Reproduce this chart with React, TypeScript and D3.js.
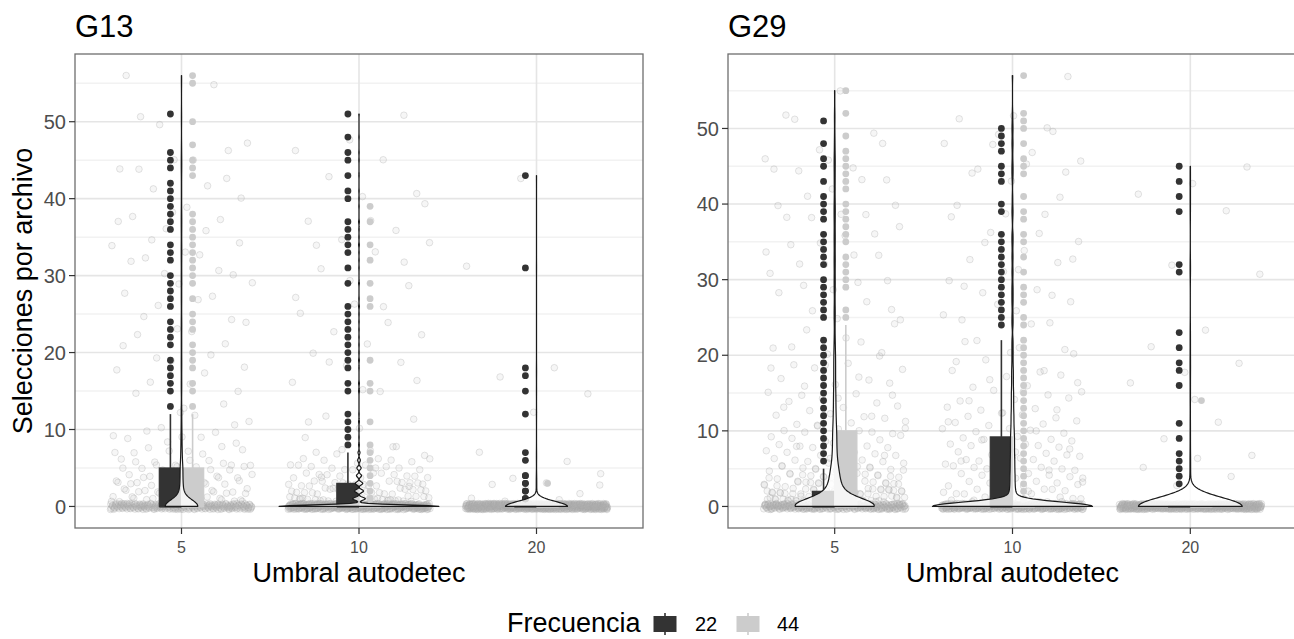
import React, { useMemo } from 'react'
import * as d3 from 'd3'

const panels = ['G13', 'G29']
const thresholds = ['5', '10', '20']
const freqs = ['22', '44']
const freqColors = ['#333333', '#cccccc']
const yTicks = [0, 10, 20, 30, 40, 50]
const yMinor = [5, 15, 25, 35, 45, 55]

// [q1, mediana, q3, bigote superior] por umbral (5, 10, 20)
const g13Box22 = [[0, 0, 5, 12], [0, 0, 3, 7], [0, 0, 0, 0]]
const g13Box44 = [[0, 0, 5, 12], [0, 0, 0, 0], [0, 0, 0, 0]]
const g29Box22 = [[0, 0, 2, 5], [0, 0, 9.2, 22], [0, 0, 0, 0]]
const g29Box44 = [[0, 0, 10, 24], [0, 0, 0, 0], [0, 0, 0, 0]]

// archivos sin selecciones
const g13Zero22 = [118, 200, 280]
const g13Zero44 = [118, 200, 280]
const g29Zero22 = [140, 140, 250]
const g29Zero44 = [140, 250, 250]

// valores dentro de los bigotes: [valor, n]
const g13Low22 = [
  [[1, 10], [2, 8], [3, 6], [4, 5], [5, 6], [6, 3], [7, 3], [8, 2], [9, 2], [10, 2], [11, 1], [12, 1]],
  [[1, 30], [2, 22], [3, 18], [4, 12], [5, 10], [6, 6], [7, 4]],
  []
]
const g13Low44 = [
  [[1, 9], [2, 8], [3, 6], [4, 5], [5, 6], [6, 3], [7, 3], [8, 2], [9, 2], [10, 1], [11, 1], [12, 1]],
  [],
  []
]
const g29Low22 = [
  [[1, 25], [2, 20], [3, 10], [4, 8], [5, 6]],
  [[1, 12], [2, 10], [3, 8], [4, 8], [5, 7], [6, 7], [7, 6], [8, 6], [9, 6], [10, 5], [11, 4], [12, 4],
    [13, 3], [14, 3], [15, 3], [16, 2], [17, 2], [18, 2], [19, 1], [20, 1], [21, 1], [22, 1]],
  []
]
const g29Low44 = [
  [[1, 15], [2, 12], [3, 10], [4, 9], [5, 8], [6, 8], [7, 7], [8, 6], [9, 6], [10, 6], [11, 4], [12, 4],
    [13, 3], [14, 3], [15, 3], [16, 2], [17, 2], [18, 2], [19, 2], [20, 2], [21, 1], [22, 1], [23, 1], [24, 1]],
  [],
  []
]

// atipicos
const g13Out22 = [
  [51, 46, 45, 44, 42, 41, 40, 39, 38, 37, 36, 34, 33, 32, 30, 29, 28, 27, 26, 24, 23, 22, 21, 19, 18, 17, 16, 15, 13],
  [51, 48, 46, 45, 43, 41, 40, 37, 36, 35, 34, 33, 31, 29, 26, 25, 24, 23, 22, 21, 20, 19, 18, 16, 15, 12, 11, 10, 9, 8],
  [43, 31, 18, 17, 15, 12, 7, 6, 4, 4, 3, 3, 2, 2, 1, 1, 1]
]
const g13Out44 = [
  [56, 55, 50, 47, 45, 44, 43, 38, 37, 36, 35, 34, 33, 32, 31, 30, 29, 27, 25, 24, 23, 21, 20, 19, 18, 16, 15, 13],
  [39, 37, 34, 32, 29, 27, 26, 19, 16, 15, 11, 8, 7, 6, 5, 4, 3, 2, 1, 1],
  [3]
]
const g29Out22 = [
  [51, 48, 46, 45, 43, 41, 40, 39, 38, 36, 35, 34, 33, 32, 30, 29, 28, 27, 26, 25, 22, 21, 20, 19, 18, 17, 16, 15,
    14, 13, 12, 11, 10, 9, 8, 7, 6],
  [50, 49, 48, 47, 45, 44, 43, 40, 39, 36, 35, 34, 33, 32, 31, 30, 29, 28, 27, 26, 25, 24],
  [45, 43, 41, 39, 32, 31, 23, 21, 19, 18, 16, 11, 9, 7, 6, 5, 4, 3]
]
const g29Out44 = [
  [55, 52, 49, 47, 46, 45, 44, 43, 42, 40, 39, 38, 37, 36, 35, 33, 32, 31, 30, 29, 26, 25],
  [57, 52, 51, 50, 48, 46, 45, 44, 41, 39, 38, 36, 35, 33, 31, 29, 28, 27, 25, 24, 22, 21, 20, 19, 18, 17, 16, 15,
    14, 13, 12, 11, 10, 9, 8, 7, 6, 5, 4, 3, 2, 1, 1, 1],
  [14]
]

const panelData = [
  { box: [g13Box22, g13Box44], zero: [g13Zero22, g13Zero44], low: [g13Low22, g13Low44], out: [g13Out22, g13Out44] },
  { box: [g29Box22, g29Box44], zero: [g29Zero22, g29Zero44], low: [g29Low22, g29Low44], out: [g29Out22, g29Out44] }
]

const FONT = '"Liberation Sans", Arial, Helvetica, sans-serif'
const W = 1294
const H = 639
const panelX = [[75, 643], [728, 1297]]
const panelTop = 54
const panelBottom = 528

const frac = (v: number) => v - Math.floor(v)

// densidad gaussiana con ancho de banda nrd0 (como R)
function violinDensity(values: number[]) {
  const s = values.slice().sort(d3.ascending)
  const n = s.length
  const sd = d3.deviation(s) || 0
  const iqr = (d3.quantileSorted(s, 0.75) as number) - (d3.quantileSorted(s, 0.25) as number)
  let lo = Math.min(sd, iqr / 1.34)
  if (!lo) lo = sd || Math.abs(s[0]) || 1
  const bw = 0.9 * lo * Math.pow(n, -0.2)
  const counts = d3.rollups(s, v => v.length, d => d)
  const [mn, mx] = d3.extent(s) as [number, number]
  const k = 1 / (n * bw * Math.sqrt(2 * Math.PI))
  return d3.range(512).map(i => {
    const y = mn + (mx - mn) * i / 511
    const dens = d3.sum(counts, ([v, c]) => c * Math.exp(-0.5 * ((y - v) / bw) ** 2)) * k
    return [y, dens] as [number, number]
  })
}

function expandObs(zero: number, low: number[][], out: number[]) {
  const obs: number[] = []
  for (let i = 0; i < zero; i++) obs.push(0)
  low.forEach(([v, c]) => { for (let i = 0; i < c; i++) obs.push(v) })
  out.forEach(v => obs.push(v))
  return obs
}

function Panel({ pi }: { pi: number }) {
  const pd = panelData[pi]
  const [x0, x1] = panelX[pi]

  const model = useMemo(() => {
    const obs = thresholds.map((_, ti) => freqs.map((_, fi) =>
      expandObs(pd.zero[fi][ti], pd.low[fi][ti], pd.out[fi][ti])))
    const all = obs.flat(2)
    const [mn, mx] = d3.extent(all) as [number, number]
    const pad = (mx - mn) * 0.05
    const y = d3.scaleLinear().domain([mn - pad, mx + pad]).range([panelBottom, panelTop])
    const x = d3.scalePoint().domain(thresholds).range([x0, x1]).padding(0.6)
    const dens = obs.map(o => violinDensity(o[0].concat(o[1])))
    const maxD = d3.max(dens.flat(), d => d[1]) as number
    return { obs, y, x, dens, maxD }
  }, [pi])

  const { obs, y, x, dens, maxD } = model
  const step = x.step()
  const boxHalf = 0.0625 * step
  const clipId = `clip-${pi}`

  const violinArea = (cx: number) => d3.area<[number, number]>()
    .y(d => y(d[0]))
    .x0(d => cx - d[1] / maxD * 0.45 * step)
    .x1(d => cx + d[1] / maxD * 0.45 * step)

  return (
    <g>
      <defs>
        <clipPath id={clipId}>
          <rect x={x0} y={panelTop} width={x1 - x0} height={panelBottom - panelTop} />
        </clipPath>
      </defs>
      <text x={x0} y={37} fontFamily={FONT} fontSize={31} fill="#000">{panels[pi]}</text>
      <rect x={x0} y={panelTop} width={x1 - x0} height={panelBottom - panelTop} fill="#fff" />
      <g clipPath={`url(#${clipId})`}>
        {yMinor.map(t => (
          <line key={'mn' + t} x1={x0} x2={x1} y1={y(t)} y2={y(t)} stroke="#f2f2f2" strokeWidth={1.5} />
        ))}
        {yTicks.map(t => (
          <line key={'mj' + t} x1={x0} x2={x1} y1={y(t)} y2={y(t)} stroke="#e5e5e5" strokeWidth={1.6} />
        ))}
        {thresholds.map(t => (
          <line key={'vx' + t} x1={x(t)} x2={x(t)} y1={panelTop} y2={panelBottom} stroke="#e5e5e5" strokeWidth={1.6} />
        ))}

        {/* puntos con jitter */}
        {thresholds.map((t, ti) => {
          const pts = obs[ti][0].concat(obs[ti][1])
          const cx = x(t) as number
          return (
            <g key={'j' + t}>
              {pts.map((v, i) => (
                <circle key={i}
                  cx={cx + (frac(i * 0.6180339887 + 0.17 * ti + 0.05 * pi) - 0.5) * 0.8 * step}
                  cy={y(v + (frac(i * 0.7548776662 + 0.33 * ti) - 0.5) * 0.8)}
                  r={3.3} fill="#b8b8b8" fillOpacity={0.13} stroke="#a6a6a6" strokeOpacity={0.3} strokeWidth={1} />
              ))}
            </g>
          )
        })}

        {/* boxplots */}
        {thresholds.map((t, ti) => freqs.map((f, fi) => {
          const [q1, med, q3, up] = pd.box[fi][ti]
          const cx = (x(t) as number) + (fi === 0 ? -boxHalf : boxHalf)
          const col = freqColors[fi]
          const outl = pd.out[fi][ti]
          return (
            <g key={'b' + t + f}>
              <line x1={cx} x2={cx} y1={y(q3)} y2={y(up)} stroke={col} strokeWidth={1.6} />
              <rect x={cx - boxHalf} width={2 * boxHalf} y={y(q3)} height={y(q1) - y(q3)}
                fill={col} stroke={col} strokeWidth={1.2} />
              <line x1={cx - boxHalf} x2={cx + boxHalf} y1={y(med)} y2={y(med)} stroke={col} strokeWidth={2.2} />
              {outl.map((v, i) => (
                <circle key={i} cx={cx} cy={y(v)} r={3.4} fill={col} />
              ))}
            </g>
          )
        }))}

        {/* violines */}
        {thresholds.map((t, ti) => (
          <path key={'v' + t} d={violinArea(x(t) as number)(dens[ti]) || ''}
            fill="#fff" fillOpacity={0.8} stroke="#1a1a1a" strokeWidth={1.2} strokeLinejoin="round" />
        ))}
      </g>
      <rect x={x0} y={panelTop} width={x1 - x0} height={panelBottom - panelTop} fill="none" stroke="#6e6e6e" strokeWidth={1.3} />

      {/* eje y */}
      {yTicks.map(t => (
        <g key={'yt' + t}>
          <line x1={x0 - 6} x2={x0} y1={y(t)} y2={y(t)} stroke="#333" strokeWidth={1.2} />
          <text x={x0 - 9} y={y(t)} dy="0.36em" textAnchor="end" fontFamily={FONT} fontSize={20} fill="#4d4d4d">{t}</text>
        </g>
      ))}
      {/* eje x */}
      {thresholds.map(t => (
        <g key={'xt' + t}>
          <line x1={x(t)} x2={x(t)} y1={panelBottom} y2={panelBottom + 6} stroke="#333" strokeWidth={1.2} />
          <text x={x(t)} y={panelBottom + 25} textAnchor="middle" fontFamily={FONT} fontSize={16} fill="#4d4d4d">{t}</text>
        </g>
      ))}
      <text x={(x0 + x1) / 2} y={582} textAnchor="middle" fontFamily={FONT} fontSize={27} fill="#000">Umbral autodetec</text>
    </g>
  )
}

function LegendKey({ x, col }: { x: number, col: string }) {
  const cy = 624
  return (
    <g>
      <line x1={x + 15} x2={x + 15} y1={cy - 11} y2={cy + 11} stroke={col} strokeWidth={1.6} />
      <rect x={x + 4} y={cy - 7.5} width={22} height={15} fill={col} stroke={col} strokeWidth={1} />
    </g>
  )
}

export default function App() {
  return (
    <svg width={W} height={H} style={{ position: 'absolute', left: 0, top: 0, background: '#fff' }}>
      <rect width={W} height={H} fill="#fff" />
      <Panel pi={0} />
      <Panel pi={1} />
      <text transform="translate(32,291) rotate(-90)" textAnchor="middle" fontFamily={FONT} fontSize={27} fill="#000">
        Selecciones por archivo
      </text>
      <g>
        <text x={507} y={632} fontFamily={FONT} fontSize={27} fill="#000">Frecuencia</text>
        <LegendKey x={650} col={freqColors[0]} />
        <text x={695} y={631} fontFamily={FONT} fontSize={20} fill="#000">{freqs[0]}</text>
        <LegendKey x={733} col={freqColors[1]} />
        <text x={777} y={631} fontFamily={FONT} fontSize={20} fill="#000">{freqs[1]}</text>
      </g>
    </svg>
  )
}
